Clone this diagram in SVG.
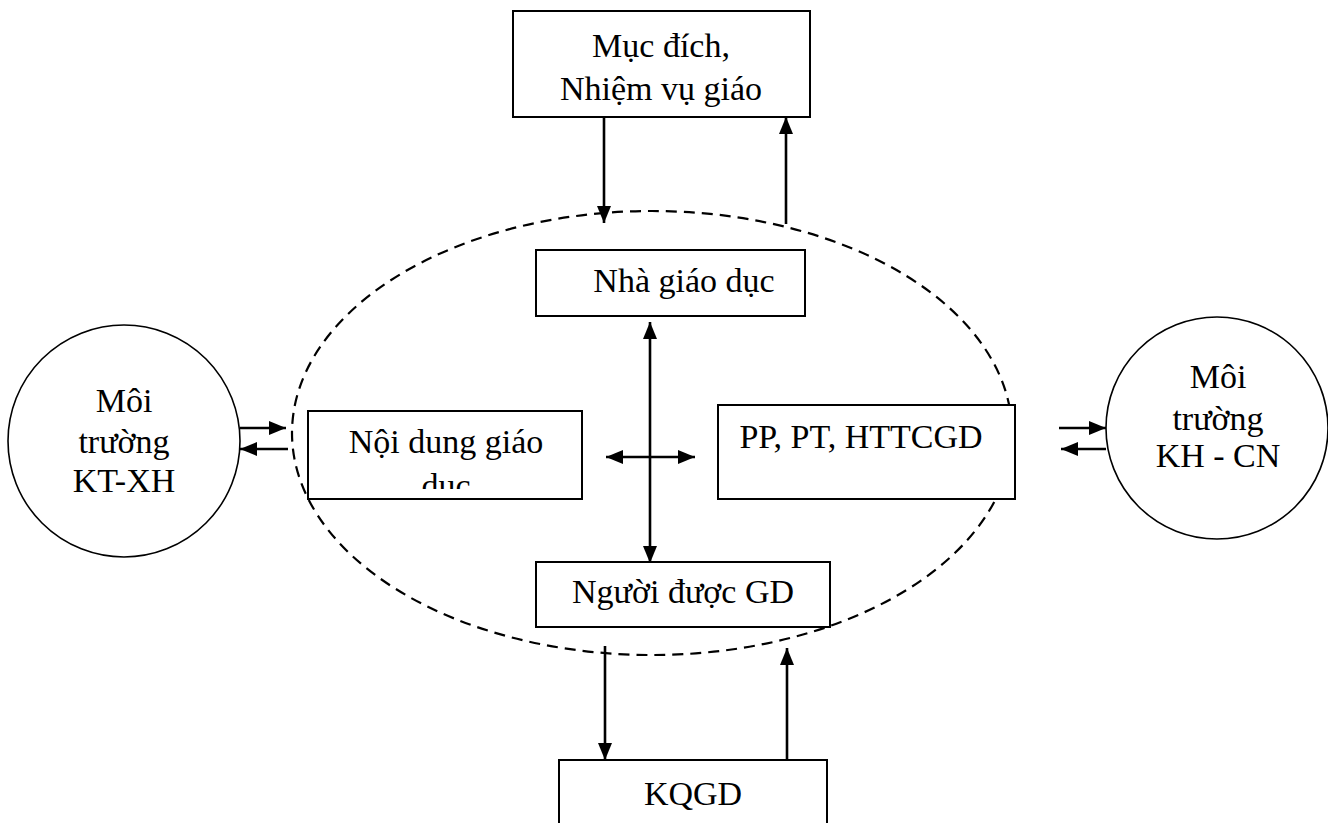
<svg xmlns="http://www.w3.org/2000/svg" width="1328" height="823" viewBox="0 0 1328 823">
<style>
.box{fill:#fff;stroke:#000;stroke-width:2}
.circ{fill:#fff;stroke:#000;stroke-width:1.6}
.t{font-family:"Liberation Serif","Times New Roman",serif;font-size:34px;fill:#000;text-anchor:middle}
.ln{stroke:#000;stroke-width:2.6;fill:none}
</style>
<defs>
<marker id="ah" viewBox="0 0 17 14" refX="17" refY="7" markerWidth="17" markerHeight="14" markerUnits="userSpaceOnUse" orient="auto-start-reverse">
<path d="M0,0 L17,7 L0,14 Z" fill="#000"/>
</marker>
<clipPath id="clipND"><rect x="308" y="411" width="274" height="78"/></clipPath>
</defs>
<rect width="1328" height="823" fill="#fff"/>
<ellipse id="boundary" cx="652" cy="433" rx="360" ry="222" fill="none" stroke="#000" stroke-width="2.2" stroke-dasharray="11 7"/>
<g id="muc-dich">
<rect class="box" x="513" y="11" width="297" height="106"/>
<text class="t" x="661" y="57">Mục đích,</text>
<text class="t" x="661" y="100">Nhiệm vụ giáo</text>
</g>
<g id="nha-giao-duc">
<rect class="box" x="536" y="250" width="269" height="66"/>
<text class="t" x="684" y="292">Nhà giáo dục</text>
</g>
<g id="noi-dung">
<rect class="box" x="308" y="411" width="274" height="88"/>
<g clip-path="url(#clipND)">
<text class="t" x="446" y="453">Nội dung giáo</text>
<text class="t" x="446" y="497">dục</text>
</g>
</g>
<g id="pp-pt">
<rect class="box" x="718" y="405" width="297" height="94"/>
<text class="t" x="861" y="448">PP, PT, HTTCGD</text>
</g>
<g id="nguoi-duoc-gd">
<rect class="box" x="536" y="562" width="294" height="65"/>
<text class="t" x="683" y="603">Người được GD</text>
</g>
<g id="kqgd">
<rect class="box" x="559" y="760" width="268" height="80"/>
<text class="t" x="693" y="805">KQGD</text>
</g>
<g id="moi-truong-ktxh">
<circle class="circ" cx="124" cy="441" r="116"/>
<text class="t" x="124" y="412">Môi</text>
<text class="t" x="124" y="453">trường</text>
<text class="t" x="124" y="492">KT-XH</text>
</g>
<g id="moi-truong-khcn">
<circle class="circ" cx="1217" cy="428" r="111"/>
<text class="t" x="1218" y="388">Môi</text>
<text class="t" x="1218" y="430">trường</text>
<text class="t" x="1218" y="467">KH - CN</text>
</g>
<g id="connectors">
<line class="ln" x1="604" y1="117" x2="604" y2="223" marker-end="url(#ah)"/>
<line class="ln" x1="786" y1="224" x2="786" y2="117" marker-end="url(#ah)"/>
<line class="ln" x1="650" y1="322" x2="650" y2="563" marker-start="url(#ah)" marker-end="url(#ah)"/>
<line class="ln" x1="606" y1="457" x2="695" y2="457" marker-start="url(#ah)" marker-end="url(#ah)"/>
<line class="ln" x1="605" y1="646" x2="605" y2="760" marker-end="url(#ah)"/>
<line class="ln" x1="787" y1="760" x2="787" y2="648" marker-end="url(#ah)"/>
<line class="ln" x1="240" y1="428" x2="286" y2="428" marker-end="url(#ah)"/>
<line class="ln" x1="288" y1="449" x2="240" y2="449" marker-end="url(#ah)"/>
<line class="ln" x1="1059" y1="428" x2="1106" y2="428" marker-end="url(#ah)"/>
<line class="ln" x1="1106" y1="449" x2="1061" y2="449" marker-end="url(#ah)"/>
</g>
</svg>
